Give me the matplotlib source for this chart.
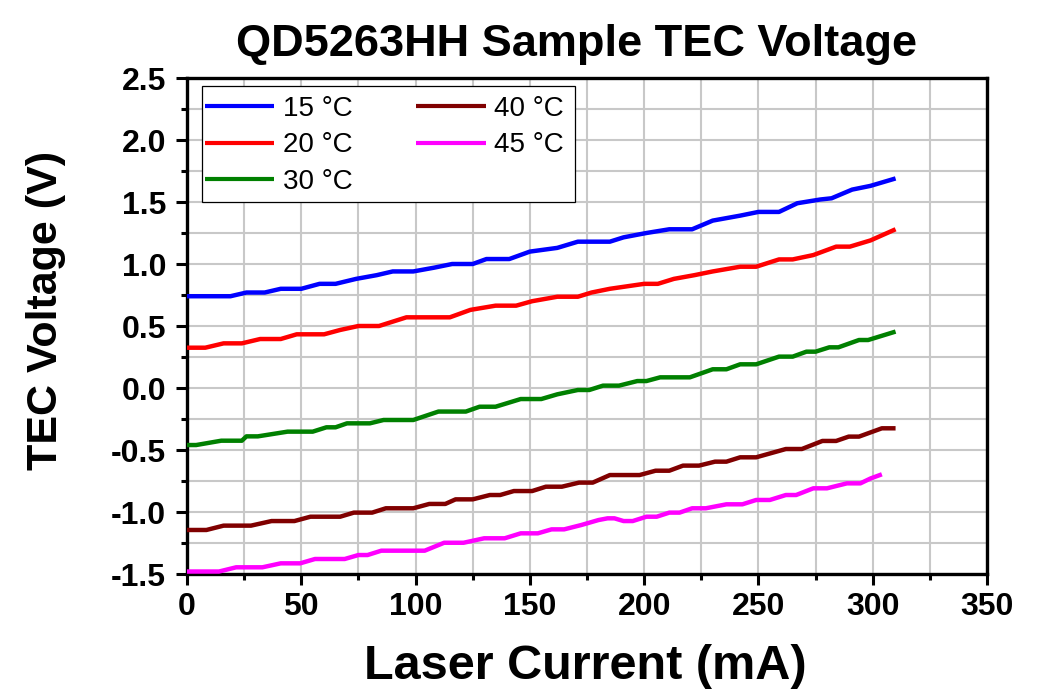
"""QD5263HH sample TEC voltage vs laser current, one trace per case temperature."""

import matplotlib

matplotlib.use("Agg")
import matplotlib.pyplot as plt
from matplotlib.patches import Rectangle
from matplotlib.ticker import MultipleLocator, FormatStrFormatter

# ---- data (laser current mA, TEC voltage V) ----
labels = ["15 °C", "20 °C", "30 °C", "40 °C", "45 °C"]
colors = ["#0000FF", "#FF0000", "#008000", "#800000", "#FF00FF"]

i15 = [0, 19, 26, 34, 41, 50, 58, 65, 74, 83, 90, 99, 108, 116, 125, 131, 141,
       150, 162, 171, 185, 191, 201, 211, 221, 230, 242, 250, 259, 267, 277,
       282, 291, 299, 310]
v15 = [0.74, 0.74, 0.77, 0.77, 0.80, 0.80, 0.84, 0.84, 0.88, 0.91, 0.94, 0.94,
       0.97, 1.00, 1.00, 1.04, 1.04, 1.10, 1.13, 1.18, 1.18, 1.215, 1.25,
       1.28, 1.28, 1.35, 1.39, 1.42, 1.42, 1.49, 1.52, 1.53, 1.60, 1.63, 1.69]

i20 = [0, 8, 16, 24, 32, 41, 48, 60, 67, 75, 84, 90, 96, 115, 124, 135, 144,
       151, 162, 171, 177, 185, 200, 206, 213, 222, 230, 242, 249, 259, 265,
       274, 284, 290, 299, 310]
v20 = [0.325, 0.325, 0.36, 0.36, 0.395, 0.395, 0.433, 0.433, 0.468, 0.50,
       0.50, 0.535, 0.57, 0.57, 0.63, 0.664, 0.664, 0.70, 0.736, 0.736, 0.77,
       0.80, 0.84, 0.84, 0.88, 0.91, 0.94, 0.978, 0.978, 1.037, 1.037, 1.072,
       1.14, 1.14, 1.19, 1.28]

i30 = [0, 4, 15, 24, 26, 31, 44, 55, 61, 65, 70, 80, 86, 99, 110, 122, 128,
       135, 146, 155, 162, 171, 176, 182, 189, 197, 201, 207, 220, 230, 236,
       242, 249, 259, 265, 271, 275, 281, 285, 294, 298, 310]
v30 = [-0.46, -0.46, -0.425, -0.425, -0.39, -0.39, -0.352, -0.352, -0.317,
       -0.317, -0.285, -0.285, -0.258, -0.258, -0.19, -0.19, -0.151, -0.151,
       -0.089, -0.089, -0.051, -0.016, -0.016, 0.019, 0.019, 0.056, 0.056,
       0.086, 0.086, 0.151, 0.151, 0.191, 0.191, 0.253, 0.253, 0.293, 0.293,
       0.328, 0.328, 0.387, 0.387, 0.455]

i40 = [0, 8.5, 16, 28, 37, 47, 54, 67, 73, 81, 87, 99, 106, 113, 117.5, 125,
       132.5, 137, 143, 151, 157, 164, 171.5, 177.5, 185, 198, 205, 211, 217,
       224, 231, 236, 242, 249, 262, 269, 278, 284, 289.5, 294, 304, 310]
v40 = [-1.145, -1.145, -1.11, -1.11, -1.073, -1.073, -1.038, -1.038, -1.005,
       -1.005, -0.97, -0.97, -0.935, -0.935, -0.898, -0.898, -0.863, -0.863,
       -0.831, -0.831, -0.796, -0.796, -0.763, -0.763, -0.702, -0.702, -0.667,
       -0.667, -0.626, -0.626, -0.594, -0.594, -0.559, -0.559, -0.492, -0.492,
       -0.427, -0.427, -0.392, -0.392, -0.325, -0.325]

i45 = [0, 14, 21.5, 33, 41, 49.5, 56, 69, 75, 79, 85, 104, 112.5, 121, 130,
       139, 146, 153.5, 159.5, 165, 172.5, 180, 184, 187, 191, 195, 201, 205.5,
       211, 215.5, 221, 227, 236, 243, 249, 255, 262, 266.5, 274, 280, 288.7,
       294.6, 299, 304]
v45 = [-1.48, -1.48, -1.446, -1.446, -1.414, -1.414, -1.379, -1.379, -1.347,
       -1.347, -1.312, -1.312, -1.248, -1.248, -1.212, -1.212, -1.172, -1.172,
       -1.14, -1.14, -1.105, -1.065, -1.051, -1.051, -1.073, -1.073, -1.038,
       -1.038, -1.005, -1.005, -0.97, -0.97, -0.938, -0.938, -0.903, -0.903,
       -0.863, -0.863, -0.809, -0.809, -0.769, -0.769, -0.73, -0.696]

currents = [i15, i20, i30, i40, i45]
voltages = [v15, v20, v30, v40, v45]

plt.rcParams["font.family"] = ["Liberation Sans", "DejaVu Sans"]
plt.rcParams["axes.unicode_minus"] = False

fig = plt.figure(figsize=(10.5, 6.9), dpi=100)
ax = fig.add_axes([187 / 1050, 1 - 574 / 690, 800 / 1050, 496 / 690])

for x, y, c, lab in zip(currents, voltages, colors, labels):
    ax.plot(x, y, color=c, lw=3.2, label=lab, zorder=3,
            solid_joinstyle="round", solid_capstyle="butt")

ax.set_xlim(0, 350)
ax.set_ylim(-1.5, 2.5)
ax.xaxis.set_major_locator(MultipleLocator(50))
ax.xaxis.set_minor_locator(MultipleLocator(25))
ax.yaxis.set_major_locator(MultipleLocator(0.5))
ax.yaxis.set_minor_locator(MultipleLocator(0.25))
ax.yaxis.set_major_formatter(FormatStrFormatter("%.1f"))

ax.grid(which="both", color="#C8C8C8", lw=1.5, zorder=0)
ax.set_axisbelow(True)

for s in ax.spines.values():
    s.set_linewidth(2.4)
    s.set_color("black")

ax.tick_params(which="major", direction="out", length=8, width=2.2, pad=5)
ax.tick_params(which="minor", direction="out", length=4, width=2.2)
ax.tick_params(axis="y", which="major", pad=7)
for t in ax.get_xticklabels() + ax.get_yticklabels():
    t.set_fontsize(23)
    t.set_fontweight("bold")

# legend box drawn separately so its padding can differ per side
ax.add_patch(Rectangle((0.01875, 0.75), 0.466, 0.234, transform=ax.transAxes,
                       facecolor="white", edgecolor="black", lw=0.9, zorder=4))
leg = ax.legend(loc="upper left", bbox_to_anchor=(0.0225, 0.9637), ncol=2,
                fontsize=20, frameon=False, borderaxespad=0, borderpad=0,
                handlelength=2.5, handletextpad=0.3, columnspacing=2.3,
                labelspacing=0.37)
leg.set_zorder(5)
for h in leg.get_lines():
    h.set_linewidth(3.0)

fig.text(577 / 1050, 1 - 56 / 690, "QD5263HH Sample TEC Voltage",
         ha="center", va="baseline", fontsize=32.5, fontweight="bold")
fig.text(585 / 1050, 1 - 679 / 690, "Laser Current (mA)",
         ha="center", va="baseline", fontsize=35, fontweight="bold")
fig.text(46 / 1050, 1 - 310 / 690, "TEC Voltage (V)", rotation=90,
         ha="center", va="center", fontsize=31, fontweight="bold")

fig.savefig("out.png", dpi=100)
